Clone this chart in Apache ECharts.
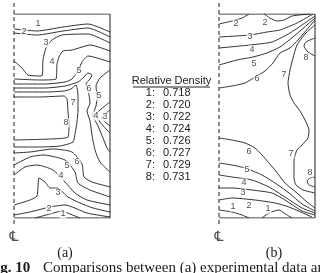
<!DOCTYPE html>
<html><head><meta charset="utf-8">
<script src="https://cdn.jsdelivr.net/npm/echarts@6.0.0/dist/echarts.min.js"></script>
<style>html,body{margin:0;padding:0;background:#fff}#c{width:320px;height:273px}</style>
</head><body><div id="c"></div>
<script>
// ---- data (radial position x, height y; arbitrary units) ----
const densityLevels = ['1', '2', '3', '4', '5', '6', '7', '8'];
const densityValues = ['0.718', '0.720', '0.722', '0.724', '0.726', '0.727', '0.729', '0.731'];
const panelNames = ['(a)', '(b)'];

const outline = [[0,204],[96,204],[96,0],[0,0]];
const centerLine = [[0,215],[0,-7]];

// (a) experimental contours, one array of polylines per density level
const exp1 = [
  [[0,189],[23,187],[49,191],[74,194],[96,186]],
  [[21,0],[36,4],[48,7],[56,4],[66,0]]
];
const exp2 = [
  [[0,185],[23,183],[49,187],[74,190],[96,181]],
  [[0,3],[16,6],[36,11],[51,13],[73,5],[96,1]]
];
const exp3 = [
  [[0,157],[8,150],[14,143],[28,142],[29,158],[32,170],[38,178],[48,183],[74,184],[96,175]],
  [[96,108],[90,103],[88,100],[91,96],[96,92]],
  [[0,13],[16,18],[23,22],[25,40],[31,36],[36,30],[43,30],[54,21],[66,15],[79,10],[96,6]]
];
const exp4 = [
  [[0,139],[26,138],[42,139],[43,154],[45,161],[49,167],[58,168],[68,171],[76,173],[96,167]],
  [[96,116],[86,108],[82,103],[86,96],[92,89],[96,85]],
  [[0,43],[11,51],[23,53],[39,48],[51,36],[61,25],[73,18],[96,13]]
];
const exp5 = [
  [[0,134],[31,134],[51,136],[58,139],[64,147],[68,156],[74,162],[96,156]],
  [[96,148],[86,140],[82,132],[83,121],[82,112],[79,103],[84,92],[89,80],[93,70],[96,66]],
  [[0,53],[16,61],[29,63],[51,58],[61,46],[64,35],[76,28],[96,21]]
];
const exp6 = [
  [[0,130],[31,130],[51,132],[64,136],[70,141],[74,145],[78,143],[76,139],[72,134],[75,123],[76,115],[73,107],[76,97],[78,83],[81,68],[86,56],[96,46]],
  [[0,65],[16,66],[39,69],[58,66],[68,54],[70,41],[78,36],[96,31]]
];
const exp7 = [
  [[0,126],[31,126],[50,127],[57,129],[62,133],[64,123],[64,108],[63,96],[61,84],[59,76],[46,72],[26,71],[0,71]]
];
const exp8 = [
  [[0,121],[26,121],[50,122],[53,119],[54,106],[55,93],[54,81],[36,79],[0,78]]
];
const expLabels = [
  [24,194,1],[10,186,2],[32,175,3],[38,156,4],[65,147,5],[75,129,6],[85,122,5],[59,115,7],[52,95,8],[82,102,4],[91,101,3],
  [63,56,6],[53,52,5],[47,42,4],[44,25,3],[35,9,2],[49,4,1]
];

// (b) simulated contours
const sim1 = [
  [[0,8],[13,6],[23,3],[30,0]],
  [[43,0],[50,5],[60,8],[65,5],[73,0]]
];
const sim2 = [
  [[0,194],[13,197],[23,200],[30,204]],
  [[45,204],[51,200],[58,197],[65,198],[73,202],[91,204]],
  [[0,18],[13,20],[36,18],[56,15],[70,11],[93,1]]
];
const sim3 = [
  [[0,181],[31,183],[48,186],[61,188],[78,195],[94,204]],
  [[0,30],[13,30],[33,28],[53,25],[66,18],[83,7],[96,3]]
];
const sim4 = [
  [[0,170],[31,173],[53,176],[71,185],[96,202]],
  [[0,43],[13,41],[33,38],[50,31],[66,21],[83,10],[96,5]]
];
const sim5 = [
  [[0,153],[18,158],[34,161],[48,165],[61,171],[74,181],[96,200]],
  [[0,55],[13,53],[26,50],[43,43],[56,35],[70,25],[83,14],[96,7]]
];
const sim6 = [
  [[0,130],[13,132],[26,135],[36,141],[46,147],[54,155],[61,165],[71,170],[79,178],[96,198]],
  [[0,80],[13,78],[26,75],[36,70],[43,63],[56,48],[66,35],[78,25],[88,16],[96,10]]
];
const sim7 = [
  [[96,193],[86,184],[78,173],[74,160],[71,148],[69,135],[71,123],[75,115],[81,107],[86,98],[90,88],[89,80],[83,73],[78,68],[75,58],[75,46],[75,40],[77,33],[84,28],[96,25]]
];
const sim8 = [
  [[96,180],[87,176],[85,172],[89,166],[96,162]],
  [[96,41],[91,40],[88,37],[90,33],[96,31]]
];
const simLabels = [
  [17,194,2],[46,195,2],[31,181,3],[33,168,4],[35,154,5],[38,139,6],[65,143,7],[87,160,8],
  [72,64,7],[91,45,8],[30,66,6],[28,48,5],[25,35,4],[24,25,3],[30,12,2],[14,11,1],[49,9,1]
];

// ---- build chart ----
const expLevels = [exp1, exp2, exp3, exp4, exp5, exp6, exp7, exp8];
const simLevels = [sim1, sim2, sim3, sim4, sim5, sim6, sim7, sim8];
const INK = '#1c1c1c';
const LEG_FONT = 'Liberation Sans';

const series = [];
function addLine(idx, pts, extra) {
  series.push(Object.assign({
    type: 'line', xAxisIndex: idx, yAxisIndex: idx, data: pts,
    symbol: 'none', smooth: 0.2, silent: true, animation: false,
    lineStyle: { color: INK, width: 0.9 }, z: 2
  }, extra || {}));
}
[expLevels, simLevels].forEach((levels, idx) => {
  addLine(idx, outline, { smooth: false, lineStyle: { color: INK, width: 1 } });
  addLine(idx, centerLine, { smooth: false, clip: false, lineStyle: { color: INK, width: 1, type: [4, 3] } });
  levels.forEach(polys => polys.forEach(p => addLine(idx, p)));
  series.push({
    type: 'scatter', xAxisIndex: idx, yAxisIndex: idx,
    data: idx === 0 ? expLabels : simLabels,
    symbolSize: 0.1, itemStyle: { color: 'rgba(0,0,0,0)' }, silent: true, animation: false, z: 5,
    label: {
      show: true, position: 'inside', formatter: p => String(p.value[2]),
      fontSize: 9, fontFamily: 'Liberation Sans', color: '#222',
      backgroundColor: '#fff', padding: [0, 1]
    }
  });
  // centre-line symbol below the axis
  series.push({
    type: 'scatter', xAxisIndex: idx, yAxisIndex: idx, data: [[0, -19]],
    symbolSize: 0.1, itemStyle: { color: 'rgba(0,0,0,0)' }, silent: true, animation: false, clip: false,
    label: { show: true, position: 'inside', formatter: '\u2104', fontSize: 14, fontFamily: 'DejaVu Sans', color: '#222' }
  });
});

const grids = [
  { left: 14, top: 14, width: 96, height: 204 },
  { left: 219, top: 14, width: 96, height: 204 }
];
const axisCommon = { show: false, splitLine: { show: false } };

function txt(x, y, text, size, family, align, weight) {
  return { type: 'text', x: x, y: y, silent: true, style: {
    text: text, fontSize: size, fontFamily: family, fontWeight: weight || 'normal', fill: '#1a1a1a',
    align: align, verticalAlign: 'middle', textAlign: align, textVerticalAlign: 'middle' } };
}
const graphic = [];
graphic.push(txt(171.5, 81, 'Relative Density', 11, LEG_FONT, 'center'));
graphic.push({ type: 'line', silent: true, shape: { x1: 133, y1: 87, x2: 210, y2: 87 }, style: { stroke: '#222', lineWidth: 1 } });
densityLevels.forEach((lv, i) => {
  const y = 93 + 12 * i;
  graphic.push(txt(155, y, lv + ':', 11, LEG_FONT, 'right'));
  graphic.push(txt(163, y, densityValues[i], 11, LEG_FONT, 'left'));
});
graphic.push(txt(65, 253, panelNames[0], 14, 'Liberation Serif', 'center'));
graphic.push(txt(274, 253, panelNames[1], 14, 'Liberation Serif', 'center'));
graphic.push(txt(-13, 268, 'Fig. 10', 15, 'Liberation Serif', 'left', 'bold'));
graphic.push(txt(43, 268, 'Comparisons between (a) experimental data and (b) simulation', 15, 'Liberation Serif', 'left'));

const chart = echarts.init(document.getElementById('c'), null, { renderer: 'canvas' });
chart.setOption({
  animation: false,
  backgroundColor: '#fff',
  grid: grids,
  xAxis: [0, 1].map(i => Object.assign({ type: 'value', gridIndex: i, min: 0, max: 96 }, axisCommon)),
  yAxis: [0, 1].map(i => Object.assign({ type: 'value', gridIndex: i, min: 0, max: 204 }, axisCommon)),
  series: series,
  graphic: graphic
});
</script></body></html>
